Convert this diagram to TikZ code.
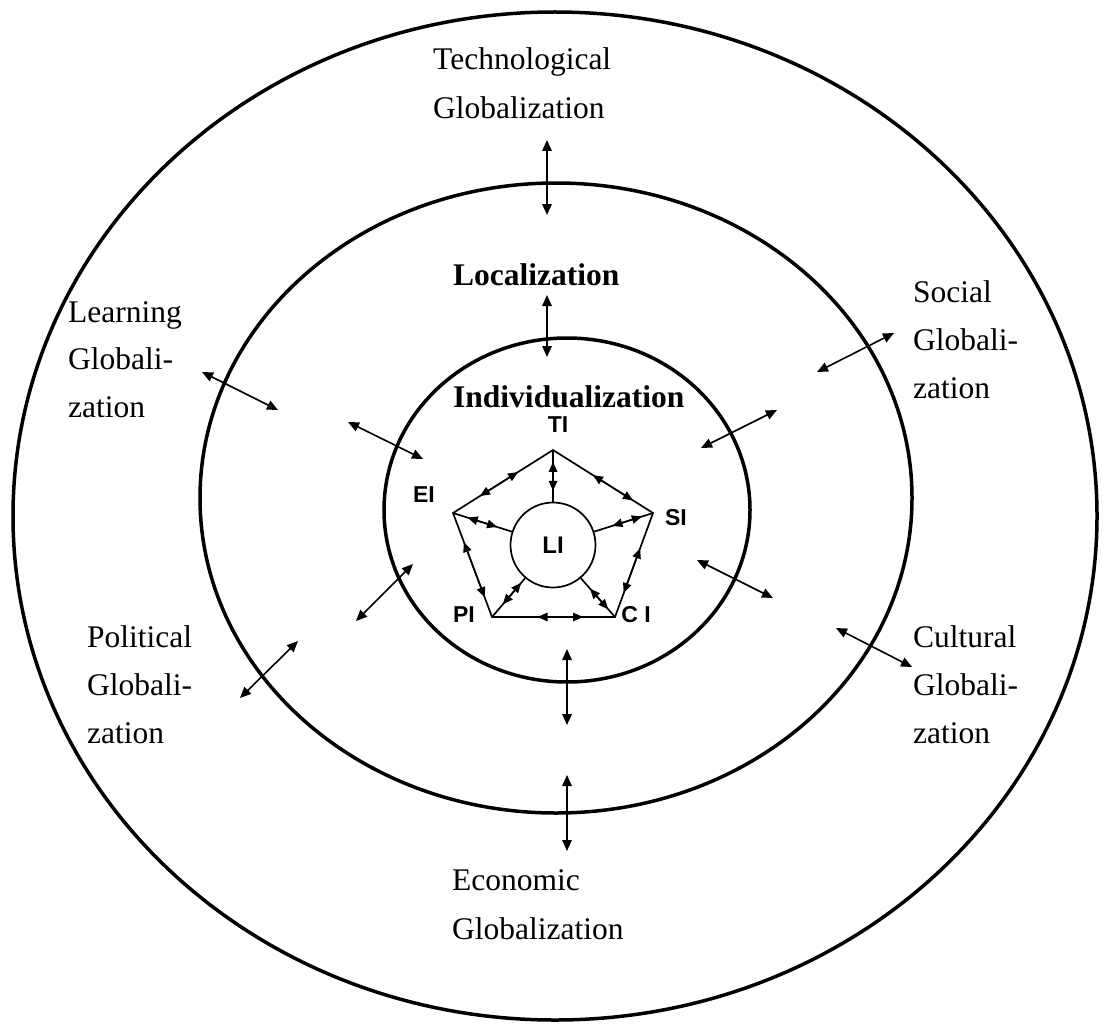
\documentclass[tikz,border=0pt]{standalone}
\usepackage{fontspec}
\setmainfont{Liberation Serif}
\newfontfamily\lsans{Liberation Sans}
\usetikzlibrary{arrows.meta,calc}
\begin{document}
\begin{tikzpicture}[x=1pt,y=-1pt,
 ring/.style={line width=3.5pt},
 thinl/.style={line width=1.7pt},
 dbl/.style={line width=1.6pt,{Triangle[length=11pt,width=9.5pt]}-{Triangle[length=11pt,width=9.5pt]}},
 sdbl/.style={line width=1.5pt,{Triangle[length=10pt,width=8.5pt]}-{Triangle[length=10pt,width=8.5pt]}},
 txt/.style={font=\fontsize{31.5}{38}\selectfont,anchor=base west,inner sep=0pt},
 btxt/.style={font=\fontsize{31.5}{38}\selectfont\bfseries,anchor=base west,inner sep=0pt},
 stxt/.style={font=\lsans\bfseries\fontsize{23}{27}\selectfont,anchor=base,inner sep=0pt}]
\useasboundingbox (0,0) rectangle (1107,1027);
% rings
\draw[ring] (555,516) ellipse [x radius=542, y radius=504];
\draw[ring] (556,498) ellipse [x radius=356, y radius=315];
\draw[ring] (567,510) ellipse [x radius=183, y radius=172];
% texts
\node[txt] (tech1) at (433,70) {Technological};
\node[txt] (tech2) at (433,119) {Globalization};
\node[btxt] (loc) at (453,285) {Localization};
\node[btxt] (ind) at (453,407) {Individualization};
\node[txt] (learn1) at (68,322) {Learning};
\node[txt] (learn2) at (68,369) {Globali-};
\node[txt] (learn3) at (68,417) {zation};
\node[txt] (soc1) at (913,302) {Social};
\node[txt] (soc2) at (913,350) {Globali-};
\node[txt] (soc3) at (913,398) {zation};
\node[txt] (pol1) at (87,647) {Political};
\node[txt] (pol2) at (87,695) {Globali-};
\node[txt] (pol3) at (87,743) {zation};
\node[txt] (cul1) at (913,647) {Cultural};
\node[txt] (cul2) at (913,695) {Globali-};
\node[txt] (cul3) at (913,743) {zation};
\node[txt] (eco1) at (452,890) {Economic};
\node[txt] (eco2) at (452,939) {Globalization};
% ring arrows
\coordinate (a1s) at (547,140); \coordinate (a1e) at (547,215);
\coordinate (a2s) at (547,295); \coordinate (a2e) at (547,357);
\coordinate (a3s) at (202,372); \coordinate (a3e) at (278,410);
\coordinate (a4s) at (348,422); \coordinate (a4e) at (423,459);
\coordinate (a5s) at (817,372); \coordinate (a5e) at (894,333);
\coordinate (a6s) at (701,448); \coordinate (a6e) at (777,410);
\coordinate (a7s) at (697,560); \coordinate (a7e) at (773,598);
\coordinate (a8s) at (836,628); \coordinate (a8e) at (912,667);
\coordinate (a9s) at (413,564); \coordinate (a9e) at (356,621);
\coordinate (a10s) at (298,641); \coordinate (a10e) at (240,698);
\coordinate (a11s) at (567,649); \coordinate (a11e) at (567,725);
\coordinate (a12s) at (567,775); \coordinate (a12e) at (567,851);
\foreach \i in {1,...,12} {\draw[dbl] (a\i s) -- (a\i e);}
% pentagon
\coordinate (TIv) at (553,450);
\coordinate (EIv) at (453,513);
\coordinate (SIv) at (653,513);
\coordinate (PIv) at (492,617);
\coordinate (CIv) at (615,617);
\node[draw,circle,thinl,minimum size=85pt,inner sep=0pt,font=\lsans\bfseries\fontsize{24}{28}\selectfont] (LI) at (553,545) {LI};
\draw[thinl] (TIv) -- (SIv) -- (CIv) -- (PIv) -- (EIv) -- cycle;
\draw[thinl] (TIv) -- (LI.90);
\draw[thinl] (EIv) -- (LI.162);
\draw[thinl] (SIv) -- (LI.18);
\draw[thinl] (PIv) -- (LI.230);
\draw[thinl] (CIv) -- (LI.310);
\draw[sdbl] ($(TIv)!0.35!(EIv)$) -- ($(TIv)!0.73!(EIv)$);
\draw[sdbl] ($(TIv)!0.40!(SIv)$) -- ($(TIv)!0.80!(SIv)$);
\draw[sdbl] ($(SIv)!0.34!(CIv)$) -- ($(SIv)!0.77!(CIv)$);
\draw[sdbl] ($(CIv)!0.26!(PIv)$) -- ($(CIv)!0.63!(PIv)$);
\draw[sdbl] ($(PIv)!0.19!(EIv)$) -- ($(PIv)!0.72!(EIv)$);
\draw[sdbl] ($(TIv)!0.23!(LI.90)$) -- ($(TIv)!0.79!(LI.90)$);
\draw[sdbl] ($(EIv)!0.25!(LI.162)$) -- ($(EIv)!0.75!(LI.162)$);
\draw[sdbl] ($(SIv)!0.19!(LI.18)$) -- ($(SIv)!0.69!(LI.18)$);
\draw[sdbl] ($(PIv)!0.33!(LI.230)$) -- ($(PIv)!0.88!(LI.230)$);
\draw[sdbl] ($(CIv)!0.20!(LI.310)$) -- ($(CIv)!0.73!(LI.310)$);
% pentagon labels
\node[stxt] (TI) at (558,432) {TI};
\node[stxt] (EI) at (424,502) {EI};
\node[stxt] (SI) at (676,525) {SI};
\node[stxt] (PI) at (464,622) {PI};
\node[stxt] (CI) at (636,622) {C I};
\end{tikzpicture}
\end{document}
